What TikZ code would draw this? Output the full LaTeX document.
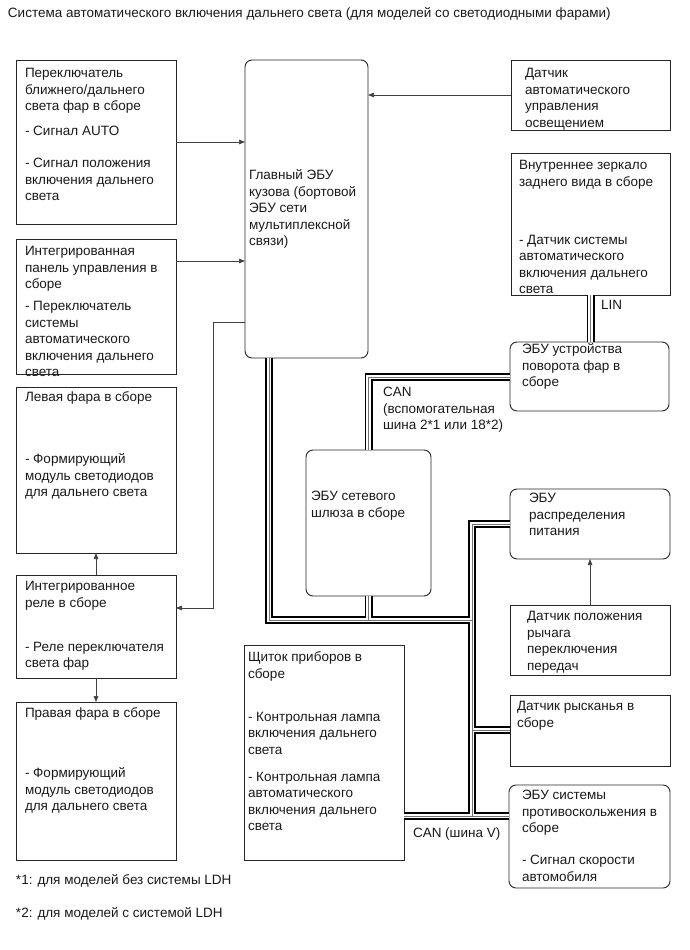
\documentclass[tikz,border=0pt]{standalone}
\usepackage{fontspec}
\setmainfont{Liberation Sans}
\usetikzlibrary{arrows.meta,calc}
\begin{document}
\begin{tikzpicture}[x=1pt,y=-1pt,
  box/.style={draw=black!85, line width=0.9pt, inner sep=0pt, outer sep=0pt, anchor=north west},
  rbox/.style={box, rounded corners=7pt},
  txt/.style={anchor=north west, inner sep=0pt, outer sep=0pt, align=left, font=\fontsize{13.5}{16.5}\selectfont, text=black!90},
  arr/.style={draw=black!75, line width=0.7pt, -{Triangle[length=6pt,width=4.5pt]}},
  cbA/.style={draw=black, line width=8pt, line join=miter, line cap=butt},
  cbB/.style={draw=white, line width=4.4pt, line join=miter, line cap=butt},
  cbC/.style={draw=black!55, line width=0.8pt, line join=miter, line cap=butt}
]
\useasboundingbox (0,0) rectangle (689,950);

% title
\node[txt] (title) at (8,6) {\strut Система автоматического включения дальнего света (для моделей со светодиодными фарами)};

% boxes
\node[box, minimum width=160pt, minimum height=164pt] (sw) at (16,60) {};
\node[box, minimum width=160pt, minimum height=135pt] (ip) at (16,239) {};
\node[box, minimum width=160pt, minimum height=166pt] (lh) at (16,387) {};
\node[box, minimum width=160pt, minimum height=103pt] (rel) at (16,575) {};
\node[box, minimum width=160pt, minimum height=158pt] (rh) at (16,702) {};
\node[rbox, minimum width=123pt, minimum height=298pt] (main) at (245,60) {};
\node[box, minimum width=159pt, minimum height=70pt] (als) at (511,60) {};
\node[box, minimum width=159pt, minimum height=142pt] (mir) at (511,153) {};
\node[rbox, minimum width=159pt, minimum height=69pt] (turn) at (510,342) {};
\node[rbox, minimum width=125pt, minimum height=146pt] (gw) at (306,450) {};
\node[rbox, minimum width=160pt, minimum height=70pt] (pd) at (510,489) {};
\node[box, minimum width=160pt, minimum height=70pt] (gear) at (510,605) {};
\node[box, minimum width=160pt, minimum height=71pt] (yaw) at (510,695) {};
\node[rbox, minimum width=161pt, minimum height=103pt] (abs) at (509,785) {};
\node[box, minimum width=160pt, minimum height=215pt] (cl) at (244,645) {};

% texts
\node[txt] (swt) at (25,66) {\strut Переключатель\\ближнего/дальнего\\света фар в сборе\\[8.5pt]- Сигнал AUTO\\[15.5pt]- Сигнал положения\\включения дальнего\\света};
\node[txt] (ipt) at (25,244) {\strut Интегрированная\\панель управления в\\сборе\\[5.5pt]- Переключатель\\системы\\автоматического\\включения дальнего\\света};
\node[txt] (lht) at (25,390) {\strut Левая фара в сборе\\[45.5pt]- Формирующий\\модуль светодиодов\\для дальнего света};
\node[txt] (relt) at (25,579) {\strut Интегрированное\\реле в сборе\\[27.5pt]- Реле переключателя\\света фар};
\node[txt] (rht) at (25,706) {\strut Правая фара в сборе\\[43.5pt]- Формирующий\\модуль светодиодов\\для дальнего света};
\node[txt] (maint) at (249,168) {\strut Главный ЭБУ\\кузова (бортовой\\ЭБУ сети\\мультиплексной\\связи)};
\node[txt] (alst) at (525,66) {\strut Датчик\\автоматического\\управления\\освещением};
\node[txt] (mirt) at (519,158) {\strut Внутреннее зеркало\\заднего вида в сборе\\[41.5pt]- Датчик системы\\автоматического\\включения дальнего\\света};
\node[txt] (turnt) at (522,342) {\strut ЭБУ устройства\\поворота фар в\\сборе};
\node[txt] (cant) at (383,385) {\strut CAN\\(вспомогательная\\шина 2*1 или 18*2)};
\node[txt] (gwt) at (311,489) {\strut ЭБУ сетевого\\шлюза в сборе};
\node[txt] (pdt) at (529,491) {\strut ЭБУ\\распределения\\питания};
\node[txt] (geart) at (527,609) {\strut Датчик положения\\рычага\\переключения\\передач};
\node[txt] (yawt) at (517,699) {\strut Датчик рысканья в\\сборе};
\node[txt] (abst) at (522,788) {\strut ЭБУ системы\\противоскольжения в\\сборе\\[15.5pt]- Сигнал скорости\\автомобиля};
\node[txt] (clt) at (248,650) {\strut Щиток приборов в\\сборе\\[26.5pt]- Контрольная лампа\\включения дальнего\\света\\[10.5pt]- Контрольная лампа\\автоматического\\включения дальнего\\света};
\node[txt] (canv) at (413,826) {\strut CAN (шина V)};
\node[txt] (lin) at (601,298) {\strut LIN};
\node[txt] (fn1) at (16,873) {\strut *1: для моделей без системы LDH};
\node[txt] (fn2) at (16,906) {\strut *2: для моделей с системой LDH};

% arrows
\draw[arr] (sw.east) -- (sw.east -| main.west);
\coordinate (ipa) at ($(ip.north east)+(0,22)$);
\draw[arr] (ipa) -- (ipa -| main.west);
\draw[arr] (als.west) -- (als.west -| main.east);
\coordinate (mo) at ($(main.north west)+(0,262)$);
\coordinate (ri) at ($(rel.north east)+(0,33)$);
\coordinate (mk) at ($(mo)+(-32,0)$);
\draw[arr] (mo) -- (mk) |- (ri);
\draw[arr] (rel.north) -- (lh.south);
\draw[arr] (rel.south) -- (rh.north);
\draw[arr] (gear.north) -- (pd.south);

% cables
\coordinate (mb) at ($(main.south west)+(24,0)$);
\coordinate (j1) at (269,620);
\coordinate (j2) at (472,620);
\coordinate (jpd) at (472,524);
\coordinate (jbot) at (472,816);
\coordinate (jyaw) at (472,730);
\coordinate (yawl) at ($(yaw.north west)+(0,35)$);
\coordinate (clr) at ($(cl.north east)+(0,171)$);
\coordinate (absl) at ($(abs.north west)+(0,31)$);
\coordinate (turnl) at ($(turn.north west)+(0,35)$);
\foreach \s in {cbA,cbB,cbC}{
  \draw[\s] (mb) -- (j1) -- (j2);
  \draw[\s] (gw.south) -- (gw.south |- j1);
  \draw[\s] (pd.west) -- (jpd) -- (jbot);
  \draw[\s] (yawl) -- (jyaw);
  \draw[\s] (clr) -- (absl);
  \draw[\s] (gw.north) -- (gw.north |- turnl) -- (turnl);
  \draw[\s] (mir.south) -- (mir.south |- turn.north);
}
\end{tikzpicture}
\end{document}
